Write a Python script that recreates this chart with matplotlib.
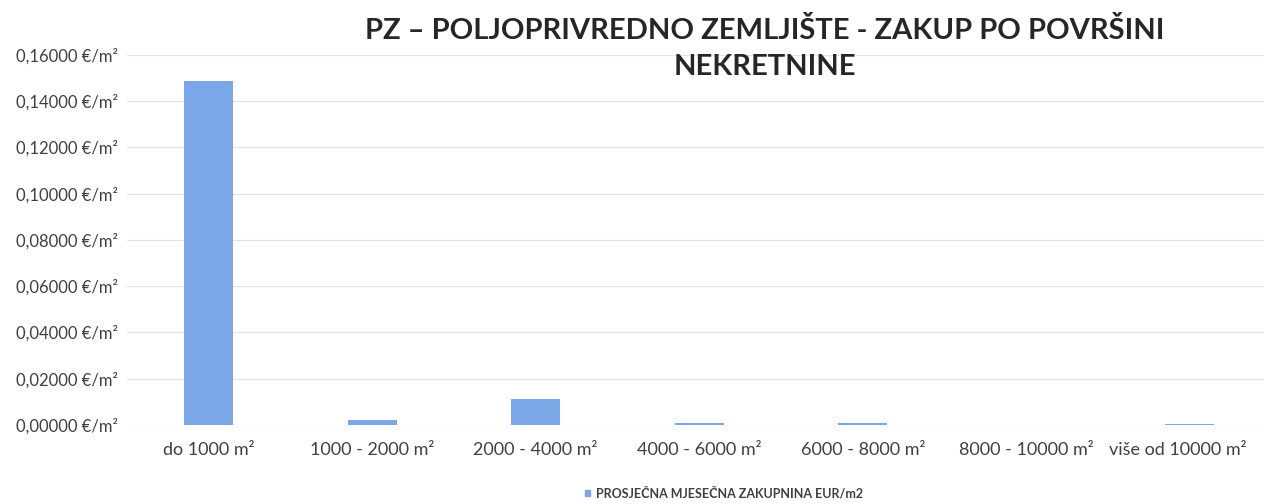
import numpy as np
import matplotlib.pyplot as plt
import matplotlib.transforms as mtransforms
from matplotlib.ticker import FuncFormatter

plt.rcParams['font.family'] = ['Lato', 'DejaVu Sans']

categories = ["do 1000 m²", "1000 - 2000 m²", "2000 - 4000 m²", "4000 - 6000 m²",
              "6000 - 8000 m²", "8000 - 10000 m²", "više od 10000 m²"]
values = [0.1489, 0.0019, 0.0112, 0.0007, 0.0007, 0.0, 0.0002]
series_name = "PROSJEČNA MJESEČNA ZAKUPNINA EUR/m2"
title = "PZ – POLJOPRIVREDNO ZEMLJIŠTE - ZAKUP PO POVRŠINI\nNEKRETNINE"

bar_color = "#7ba7e8"

fig = plt.figure(figsize=(12.64, 5.04), dpi=100)
ax = fig.add_axes([0.1003, 0.157, 0.9057, 0.734])

x = np.arange(len(categories))
ax.bar(x, values, width=0.30, color=bar_color, zorder=3)

ax.set_xlim(-0.5, len(categories) - 0.5)
ax.set_ylim(0, 0.16)
ax.set_yticks(np.arange(0, 0.1601, 0.02))
ax.yaxis.set_major_formatter(FuncFormatter(lambda v, p: f"{v:.5f}".replace('.', ',') + " €/m²"))
ax.grid(axis='y', color='#e4e4e4', linewidth=0.9, zorder=0)
for s in ax.spines.values():
    s.set_visible(False)
ax.tick_params(axis='both', length=0)
ax.tick_params(axis='y', labelsize=12, colors='#404040', pad=6)
ax.tick_params(axis='x', labelsize=13, colors='#404040', pad=12)
ax.set_xticks(x)
ax.set_xticklabels(categories)

# last label is pushed left so it fits inside the picture
last = ax.get_xticklabels()[-1]
last.set_transform(last.get_transform() + mtransforms.ScaledTranslation(-0.12, 0, fig.dpi_scale_trans))

fig.text(0.605, 0.904, title, ha='center', va='center', fontsize=21, fontweight='bold',
         color='#262626', linespacing=1.5)

# legend
fig.patches.append(plt.Rectangle((0.4625, 0.016), 0.0045, 0.011, transform=fig.transFigure,
                                 color=bar_color, figure=fig))
fig.text(0.4715, 0.022, series_name, ha='left', va='center', fontsize=9.0,
         fontweight='bold', color='#404040')

fig.savefig("out.png", dpi=100, facecolor='white')
